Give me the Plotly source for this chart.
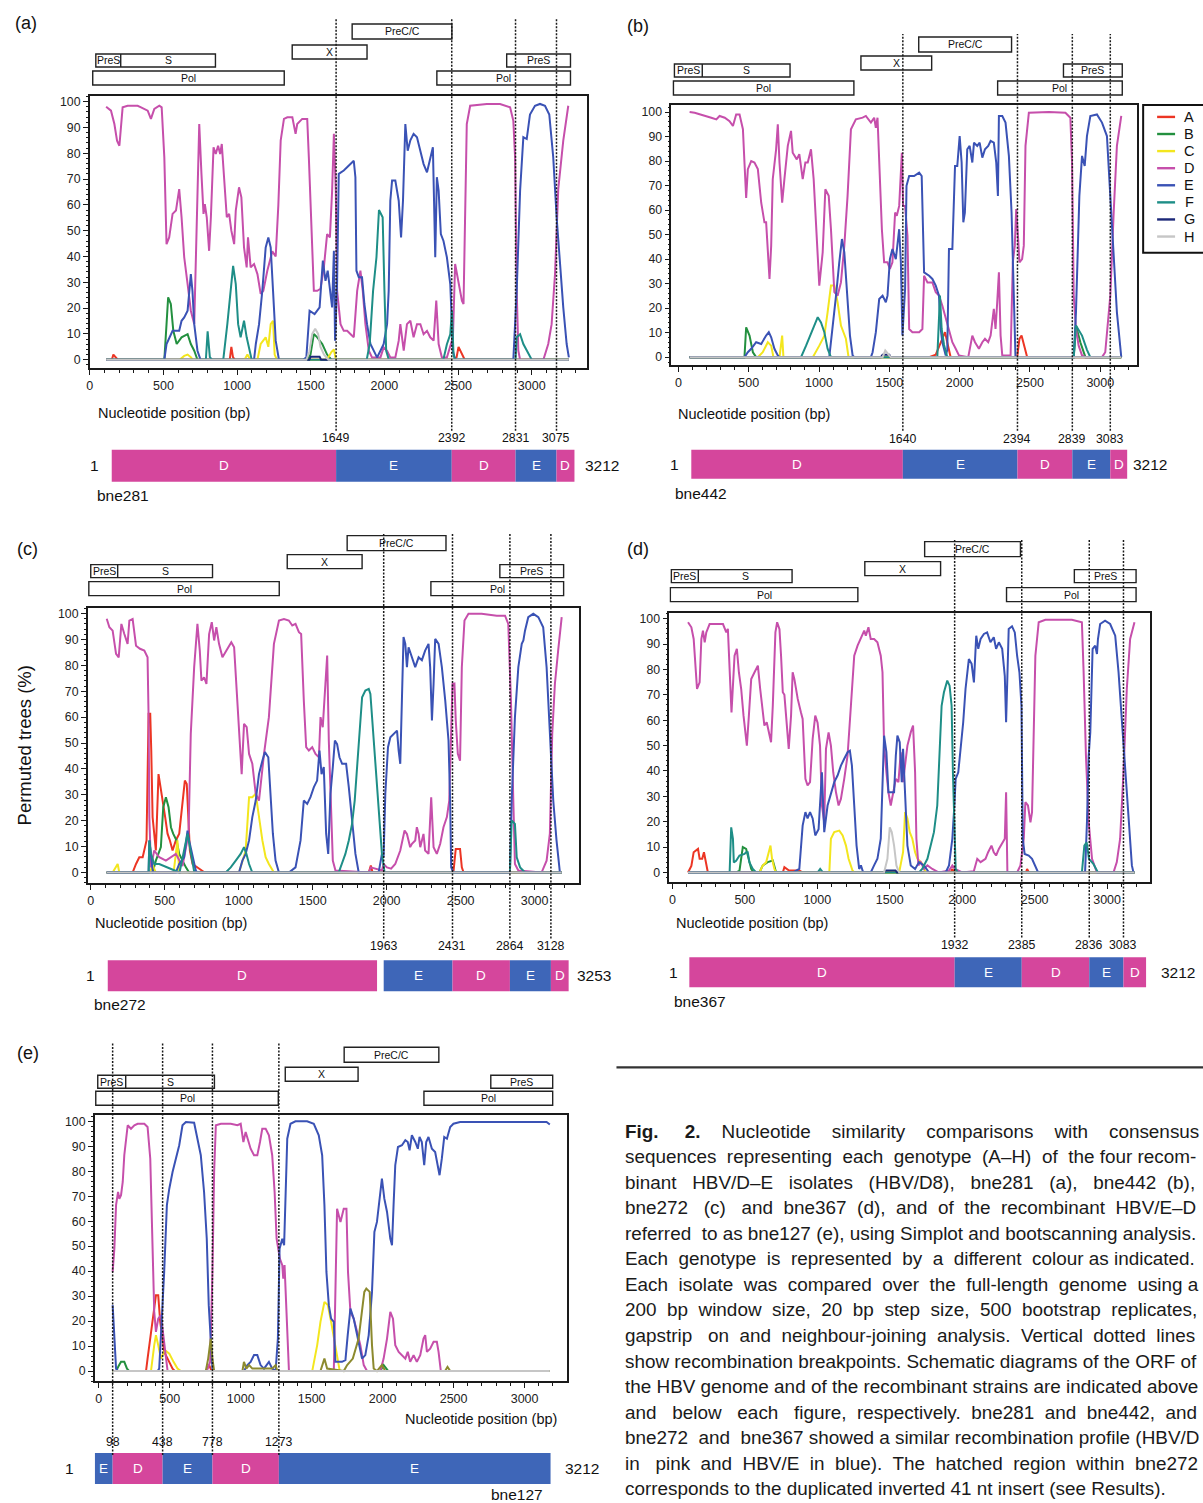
import plotly.graph_objects as go

W, H = 1203, 1503
FONT = "Arial, 'Liberation Sans', Helvetica, sans-serif"

GENOTYPES = ["A", "B", "C", "D", "E", "F", "G", "H"]
COLORS = {"A": "#ec3524", "B": "#23903f", "C": "#f3e61e", "D": "#c64fab",
          "E": "#3a52b5", "F": "#1e8e87", "G": "#1c2878", "H": "#c6c6c6"}
OLIVE = "#8c8a2e"
BAR_COL = {"D": "#d5469c", "E": "#3e66b8"}
TICKS_X = [0, 500, 1000, 1500, 2000, 2500, 3000]
TICKS_Y = [0, 10, 20, 30, 40, 50, 60, 70, 80, 90, 100]

# ---------------- panel (a) bne281 ----------------
PA_A = [(111,0),(150,0),(160,2),(175,1),(190,0),(950,0),(961,5),(972,1),(985,0),(2470,0),(2490,1),(2503,5),(2526,2),(2545,0),(3252,0)]
PA_B = [(111,0),(506,0),(521,13.8),(532,24.2),(550,21.6),(567,11.2),(590,6.1),(623,8.7),(664,9.9),(686,6.1),(709,3.5),(731,0),(1478,0),(1498,2),(1521,10),(1544,8.7),(1578,6.1),(1611,2),(1640,0),(3252,0)]
PA_C = [(111,0),(610,0),(641,1.5),(664,2),(686,1),(700,0),(1050,0),(1070,2),(1090,0),(1138,0),(1160,6.1),(1194,8.7),(1212,5),(1228,13.8),(1244,15.1),(1255,2),(1270,0),(1600,0),(1620,1),(1640,3),(1657,4),(1670,0),(3252,0)]
PA_D = [(111,98),(144,96.5),(167,91.3),(185,84.9),(201,82.9),(208,88.8),(223,97.8),(257,98.4),(325,98.4),(348,97.8),(393,96.5),(415,93.3),(438,97.2),(472,98.4),(488,97.8),(506,78.4),(521,44.8),(539,47.4),(562,56.5),(585,57.8),(607,66.1),(623,55.2),(641,39.7),(664,29.3),(686,19),(709,13.8),(720,40),(743,91.3),(758,72),(772,56.5),(781,60.3),(794,55.2),(810,42.2),(822,55.2),(840,82.3),(855,79.7),(871,82.9),(885,79.7),(896,83.6),(912,72),(930,55.2),(946,56.5),(961,50),(980,44.8),(991,57.8),(1013,66.8),(1029,62.9),(1047,43.5),(1065,35.8),(1074,47.4),(1092,35.8),(1115,37.1),(1138,33.2),(1160,25.5),(1178,26.7),(1205,34.5),(1239,42),(1262,40),(1280,60),(1296,85),(1318,93.3),(1341,93.9),(1375,93.9),(1397,87.5),(1408,91.3),(1442,93.3),(1476,93.3),(1487,78.4),(1503,52.6),(1521,26.7),(1544,26.7),(1566,27.5),(1589,35.8),(1611,48.7),(1630,47.4),(1645,65.5),(1657,87.5),(1670,65.5),(1679,26.7),(1702,13.8),(1724,11.2),(1747,11.2),(1769,10),(1792,8.7),(1815,26.7),(1837,34.5),(1853,26.7),(1871,13.8),(1894,3.5),(1916,0.9),(1973,0.9),(1995,4.8),(2018,3.5),(2040,0.9),(2074,0.9),(2097,7.4),(2108,13.8),(2131,3.5),(2153,13.8),(2176,15.1),(2198,8.7),(2221,13.8),(2244,13.8),(2266,9.9),(2289,11.2),(2311,8.7),(2334,7.4),(2352,22.9),(2368,6.1),(2390,0.9),(2424,0.9),(2447,4.8),(2465,8.7),(2480,37.1),(2503,29.3),(2526,22.9),(2537,21.6),(2548,59),(2559,91.3),(2582,98.4),(2695,99.1),(2785,99.1),(2853,97.8),(2875,92.6),(2887,78.4),(2898,26.7),(2909,3.5),(2921,0),(3079,0),(3112,6.1),(3135,13.8),(3158,33.2),(3180,66.1),(3214,84.9),(3248,98.4)]
PA_E = [(111,0),(506,0),(521,6.1),(562,11.2),(607,11.2),(623,15.1),(641,16.4),(664,19),(686,33.2),(697,26.7),(709,13.8),(731,3.5),(752,0),(1115,0),(1127,6.1),(1149,13.8),(1171,26.7),(1194,43.5),(1212,47.4),(1228,43.5),(1244,26.7),(1262,7.4),(1284,0),(1448,0),(1470,0.9),(1492,19),(1526,17.7),(1560,20.3),(1582,38.4),(1600,30.6),(1615,34.5),(1645,20.3),(1657,42.2),(1665,7.4),(1679,30),(1690,72),(1724,73.3),(1769,75.8),(1792,77.1),(1803,70.7),(1810,34.5),(1826,32),(1848,32),(1864,21.6),(1882,13.8),(1905,6.1),(1927,3.5),(1950,0.9),(1973,3.5),(1995,6.1),(2018,13.8),(2029,26.7),(2040,61.6),(2052,69.4),(2074,69.4),(2097,61.6),(2113,47.4),(2126,61.6),(2142,91.3),(2158,81),(2176,85),(2198,87.5),(2221,86.2),(2244,81),(2266,75.8),(2289,72.6),(2307,77.1),(2329,82.3),(2345,39.7),(2356,70.7),(2368,65.5),(2383,48.7),(2401,46),(2424,39.7),(2447,29.3),(2465,3.5),(2480,0),(2875,0),(2898,26.7),(2921,65.5),(2943,86.2),(2966,85.5),(2988,95),(3022,98.4),(3056,99.1),(3090,98.4),(3119,95),(3146,78.4),(3169,55.2),(3191,36),(3214,20.3),(3237,6.1),(3252,0.9)]
PA_F = [(111,0),(788,0),(800,11),(815,1),(830,0),(906,0),(934,14),(957,27),(973,36.4),(991,29.3),(1007,13.8),(1024,8.7),(1047,15.1),(1065,8.7),(1083,3.5),(1099,0),(1880,0),(1900,6.1),(1923,26.7),(1946,39.7),(1963,58),(1988,55.2),(2000,27),(2012,3.5),(2030,0),(2400,0),(2424,6),(2447,9.9),(2458,19),(2469,2),(2480,0),(2890,0),(2898,8.7),(2921,9.9),(2943,6.1),(2988,1),(3000,0),(3252,0)]
PA_G = [(111,0),(1490,0),(1500,1.2),(1560,1.2),(1570,0),(3252,0)]
PA_H = [(111,0),(1470,0),(1490,3),(1510,10),(1530,12),(1550,10),(1566,5),(1590,2),(1620,0),(3252,0)]
PA_BREAK_LABELS = [1649, 2392, 2831, 3075]
PA_BREAK_POS = [1672, 2457, 2890, 3168]
PA_BAR = [149, 3290]
PA_BAR_LETTERS = ["D", "E", "D", "E", "D"]
PA_LENGTH = 3212
PA_ORF = [("PreC/C",1781,2458,0),("X",1374,1882,1),("S",41,853,2),("Pol",20,1320,3),("PreS",2830,3263,2),("Pol",2356,3263,3)]
PA_PRES_END = 210

# ---------------- panel (b) bne442 ----------------
PB_A = [(80,0),(1783,0),(1830,1),(1877,7.5),(1896,10.2),(1912,6),(1936,0),(2409,0),(2425,7.5),(2440,8.8),(2456,5),(2480,0),(3149,0)]
PB_B = [(80,0),(470,0),(482,12.2),(506,8.8),(530,2),(553,0),(2811,0),(2827,12.9),(2858,6.1),(2894,0),(3149,0)]
PB_C = [(80,0),(565,0),(600,2),(636,6.1),(660,4.7),(676,0),(719,0),(738,8.8),(747,0),(956,0),(1002,4.7),(1038,8.8),(1061,18.3),(1085,29.2),(1109,29.2),(1132,22.4),(1156,12.9),(1191,7.5),(1210,0),(3149,0)]
PB_D = [(80,100),(116,99.7),(151,99.1),(199,98.4),(234,97.7),(270,97),(293,98.4),(330,97.7),(364,96.3),(388,94.3),(411,99),(435,99),(459,93),(470,79.4),(482,65),(494,76.7),(518,80),(541,79.4),(565,76.7),(589,63),(612,55),(624,55),(636,45.5),(648,31.9),(660,45.5),(671,72.6),(695,84.8),(707,95),(719,79.4),(738,63),(754,72.6),(778,86.2),(801,92.3),(813,83.4),(842,80.7),(860,82.8),(884,72.6),(903,79.4),(920,79.4),(943,84.8),(962,72.6),(983,52.2),(1002,29.2),(1026,42.7),(1045,68.5),(1069,65.8),(1085,52.2),(1109,26.5),(1132,25.1),(1156,30.5),(1180,45.5),(1203,65.8),(1227,93),(1262,97),(1310,97.7),(1333,98.4),(1369,95.7),(1392,97.7),(1404,93.6),(1416,97.7),(1428,79.4),(1447,52.2),(1463,38.7),(1487,38.7),(1504,36),(1522,38.7),(1541,59),(1553,57.7),(1570,61.7),(1589,83.4),(1598,61.7),(1612,61.7),(1629,49.5),(1641,11.5),(1664,10.2),(1712,10.2),(1735,11.5),(1747,33.2),(1771,30.5),(1806,30.5),(1830,26.5),(1853,25.1),(1877,21),(1901,15.6),(1924,11.5),(1948,6.1),(1972,3.4),(1995,0.7),(2061,0),(2071,3.4),(2090,8.8),(2109,6.1),(2137,3.4),(2161,6.1),(2180,7.5),(2203,6.1),(2220,8.8),(2243,19.7),(2255,11.5),(2267,22.4),(2279,34.6),(2291,8.8),(2303,0.7),(2362,0.7),(2378,38.7),(2392,45.5),(2402,60.4),(2416,48.2),(2425,38.7),(2444,40),(2456,45.5),(2468,86.2),(2492,99.7),(2634,100),(2752,99.7),(2787,97.7),(2799,79.4),(2811,25.1),(2827,11.5),(2846,4.7),(2870,0.7),(2894,0),(3012,0),(3035,2),(3071,25.1),(3095,59),(3118,86.2),(3149,98.4)]
PB_E = [(80,0),(470,0),(494,2),(518,3.4),(553,6.1),(589,5.4),(624,8.8),(643,10.2),(660,8.1),(683,3.4),(707,0.7),(720,0),(1073,0),(1097,11.5),(1121,25.1),(1144,38.7),(1163,48.2),(1180,42.7),(1203,25.1),(1220,8.8),(1239,0.7),(1251,0),(1369,0),(1381,2),(1404,10.2),(1428,23.7),(1452,25.1),(1475,22.4),(1487,25.1),(1504,40),(1522,44.1),(1546,40),(1570,52.2),(1582,38.7),(1593,8.8),(1612,27.8),(1622,69.9),(1641,73.9),(1676,73.9),(1712,75.3),(1730,73.9),(1747,34.6),(1783,33.2),(1806,31.9),(1830,29.2),(1853,25.1),(1865,11.5),(1877,6.1),(1901,0.7),(1912,3),(1924,44.1),(1948,44.1),(1967,78),(1983,78),(2000,90.2),(2014,79.4),(2026,55),(2037,59),(2054,84.8),(2071,86.2),(2090,79.4),(2102,87.5),(2125,86.2),(2142,87.5),(2161,81.4),(2180,84.8),(2203,86.2),(2220,88.2),(2243,87.5),(2260,79.4),(2272,65.8),(2279,98.4),(2303,98.4),(2326,95.7),(2350,82.1),(2369,59),(2385,25.1),(2397,0),(2811,0),(2827,18.3),(2851,65.8),(2870,82.1),(2889,78),(2905,90.2),(2929,98.4),(2976,99),(3012,95.7),(3047,90.2),(3071,65.8),(3095,38.7),(3118,18.3),(3149,0)]
PB_F = [(80,0),(872,0),(908,4.7),(956,11.5),(991,16.3),(1014,14.2),(1038,10.2),(1061,3.4),(1085,0),(1841,0),(1860,25.1),(1872,11.5),(1889,5),(1912,0),(2811,0),(2827,12.9),(2870,8.8),(2905,3),(2929,0),(3149,0)]
PB_G = [(80,0),(1440,0),(1452,1),(1500,1),(1510,0),(3149,0)]
PB_H = [(80,0),(1452,0),(1471,2.7),(1487,1.4),(1510,0),(3149,0)]
PB_BREAK_LABELS = [1640, 2394, 2839, 3083]
PB_BREAK_POS = [1596, 2411, 2801, 3071]
PB_BAR = [92, 3191]
PB_BAR_LETTERS = ["D", "E", "D", "E", "D"]
PB_LENGTH = 3212
PB_ORF = [("PreC/C",1709,2369,0),("X",1298,1801,1),("S",-28,794,2),("Pol",-35,1248,3),("PreS",2738,3156,2),("Pol",2270,3156,3)]
PB_PRES_END = 170

# ---------------- panel (c) bne272 ----------------
PC_A = [(108,0),(283,0),(306,3.3),(328,5.9),(351,5.9),(377,12.4),(391,61.3),(402,61.3),(409,47.1),(418,21.4),(429,15),(440,8.5),(458,38),(470,33),(485,27.8),(503,21.4),(519,15),(535,12.4),(553,8.5),(575,12.4),(598,15),(620,27.8),(636,35.5),(649,34.2),(661,21.4),(670,8.5),(688,3.3),(721,2),(755,0.8),(770,0),(1879,0),(1893,2.7),(1905,0),(2451,0),(2467,9.1),(2496,9.1),(2508,2),(2520,0),(3183,0)]
PC_B = [(108,0),(418,0),(440,4.6),(474,9.8),(490,25.2),(508,29.1),(526,25.2),(542,17.5),(557,15),(580,12.4),(598,7.2),(620,4.6),(643,2),(665,0),(3183,0)]
PC_C = [(108,0),(148,0),(182,3.3),(193,0),(400,0),(418,3),(440,0),(560,0),(586,12.4),(598,0),(1002,0),(1047,8.5),(1070,29.1),(1092,29.1),(1115,30.4),(1137,21.4),(1160,12.4),(1182,5.9),(1204,3.3),(1238,0),(3183,0)]
PC_D = [(108,98),(126,94.7),(148,93.4),(171,84.4),(189,83.1),(207,96),(227,92.1),(249,88.3),(261,97.3),(283,97.9),(306,87.6),(333,86.4),(362,85.7),(384,83.1),(391,60),(396,21.4),(407,2),(429,8.5),(463,5.9),(508,4.6),(575,7.2),(620,2.5),(661,15),(676,53.5),(699,79.3),(721,96),(737,85.7),(748,74.1),(766,75.4),(782,72.8),(800,92.1),(818,96.7),(834,89.6),(849,94.7),(867,88.3),(890,83.1),(917,85.7),(950,88.9),(969,87),(984,72.8),(1002,53.5),(1020,38),(1036,57.4),(1054,56.1),(1070,45.8),(1092,42),(1115,30.4),(1137,27.8),(1171,45.8),(1204,60),(1238,88.3),(1272,97.3),(1306,97.9),(1339,97.3),(1362,95.4),(1384,96),(1407,92.8),(1422,92.1),(1440,66.4),(1456,48.4),(1474,47.1),(1497,48.4),(1519,45.8),(1542,44.5),(1553,60),(1568,56.1),(1586,72.8),(1598,83.8),(1609,51),(1620,27.8),(1636,4.6),(1654,0.8),(1879,0),(1893,2),(1968,0.8),(1979,3.3),(2002,2),(2030,1.5),(2058,3.3),(2092,8.5),(2121,16.2),(2137,14.9),(2159,9.8),(2171,11.1),(2193,12.4),(2204,17.5),(2216,14.9),(2227,9.8),(2238,12.4),(2249,14.9),(2260,8.5),(2283,7.2),(2301,29.1),(2317,9.8),(2339,7.2),(2362,11.1),(2384,17.5),(2407,21.4),(2423,27.8),(2436,58.7),(2445,72.8),(2458,73),(2467,58.7),(2481,45.8),(2496,43.2),(2508,79.3),(2526,97.3),(2553,99.9),(2642,99.9),(2744,99.2),(2800,99.2),(2822,96),(2840,66.4),(2856,27.8),(2867,3.3),(2890,0.8),(3047,0),(3081,4.6),(3103,15),(3119,53.5),(3137,72.8),(3159,85.7),(3183,98.6)]
PC_E = [(108,0),(391,0),(396,12.4),(411,4),(420,0),(575,0),(598,3.3),(631,5.9),(654,16.2),(665,12.4),(688,5.9),(710,0.8),(720,0),(1002,0),(1025,4.6),(1047,7.2),(1070,12.4),(1092,21.4),(1115,27.8),(1137,38),(1160,43.2),(1177,46.5),(1200,44.5),(1216,30.4),(1231,15),(1249,4.6),(1272,0),(1339,0),(1384,2),(1418,12.4),(1440,27.8),(1463,26.5),(1485,29.1),(1508,33),(1530,35.5),(1546,47.1),(1560,38),(1575,40.7),(1591,15),(1605,7.2),(1620,30.4),(1636,40.7),(1650,51),(1665,49.6),(1681,44.5),(1699,42),(1726,42),(1744,33),(1766,21.4),(1789,7.2),(1811,0),(1946,0),(1968,7.2),(1979,5.9),(1991,30.4),(2009,48.4),(2025,52.2),(2047,53.5),(2070,54.8),(2081,47.1),(2092,42),(2103,66.4),(2114,90.9),(2126,88.3),(2137,79.3),(2148,87),(2171,83.1),(2193,79.3),(2216,83.1),(2238,82),(2260,85.7),(2283,88.3),(2294,79.3),(2306,58.7),(2317,72.8),(2328,90.2),(2351,88.3),(2373,79.3),(2396,66.4),(2418,51),(2429,27.8),(2436,2),(2451,0),(2833,0),(2845,27.8),(2867,60),(2890,79.3),(2913,88.3),(2924,89.6),(2935,93.4),(2957,98.6),(2991,99.9),(3025,98.6),(3058,94.7),(3081,79.3),(3103,53.5),(3126,27.8),(3148,12.4),(3171,0)]
PC_F = [(108,0),(391,0),(396,12.4),(407,7.2),(429,3.3),(463,3.3),(600,0),(654,15),(670,9.8),(688,3.3),(700,0),(912,0),(946,2),(980,4.6),(1013,7.2),(1036,9.8),(1052,7.2),(1070,3.3),(1092,0),(1676,0),(1699,3.3),(1721,7.2),(1744,12.4),(1766,18.8),(1784,27.8),(1800,40.7),(1816,56.1),(1834,67.7),(1856,70.3),(1879,70.9),(1890,69),(1901,60),(1919,47.1),(1935,34.2),(1950,21.4),(1968,7.2),(1986,0),(2833,0),(2845,20.1),(2867,18.8),(2879,5.9),(2902,2),(2935,0),(3183,0)]
PC_G = [(108,0),(3183,0)]
PC_H = [(108,0),(3183,0)]
PC_BREAK_LABELS = [1963, 2431, 2864, 3128]
PC_BREAK_POS = [1980, 2445, 2833, 3110]
PC_BAR = [115, 3230]
PC_BAR_LETTERS = ["D", "E", "D", "E", "D"]
PC_INSERT = [1935, 1980]
PC_LENGTH = 3253
PC_ORF = [("PreC/C",1733,2401,0),("X",1328,1834,1),("S",0,823,2),("Pol",-13,1274,3),("PreS",2765,3196,2),("Pol",2299,3196,3)]
PC_PRES_END = 182

# ---------------- panel (d) bne367 ----------------
PD_A = [(108,0),(131,2.6),(147,8),(177,9.3),(188,5.4),(206,5.4),(218,8),(230,4),(245,0),(762,0),(773,2.1),(805,0.8),(876,0.8),(900,0),(1920,0),(1932,1.4),(1945,0),(2440,0),(2448,1.4),(2460,0),(3189,0)]
PD_B = [(108,0),(440,0),(463,0.7),(486,10),(509,9.3),(532,4),(544,1.4),(560,0),(601,0),(624,2.8),(658,4.1),(693,4.7),(716,0),(3189,0)]
PD_C = [(108,0),(601,0),(624,2.8),(647,4),(665,8),(677,10.6),(688,5.4),(704,1.4),(716,0),(1083,0),(1094,13.3),(1117,15.9),(1152,16.5),(1175,14.6),(1198,10.6),(1216,5.4),(1243,0.8),(1255,0),(1565,0),(1592,8),(1606,23.8),(1622,21.3),(1638,15.9),(1656,13.3),(1675,8),(1691,5.4),(1725,3.4),(1748,0),(3189,0)]
PD_D = [(108,98.6),(131,96.6),(147,92),(161,78.9),(170,72.3),(188,74.9),(200,92),(211,95.3),(223,90.7),(234,94.6),(257,97.9),(349,97.9),(372,94.6),(383,96),(399,72.3),(408,63.1),(429,85.4),(445,88.1),(459,78.9),(475,72.3),(491,61.8),(504,55.2),(514,50),(528,61.8),(544,76.2),(567,78.9),(590,81.5),(606,72.3),(619,65.7),(635,57.9),(651,59.2),(665,55.2),(681,51.3),(693,65.7),(711,94.6),(723,98.6),(739,95.9),(750,85.4),(762,71),(773,70),(789,59.2),(803,48.7),(819,61.8),(830,78.9),(842,76.2),(865,68.4),(887,63.1),(899,60.5),(918,36.9),(933,34.3),(950,35.6),(968,52.6),(986,61.8),(1002,59),(1019,50),(1032,26.4),(1048,19.8),(1060,48.7),(1078,55.2),(1094,50),(1110,39.5),(1129,31.6),(1147,26.4),(1163,29),(1186,36.9),(1209,46.1),(1232,65.7),(1255,85.4),(1278,89.4),(1308,93.3),(1324,95.3),(1335,93.3),(1353,96.6),(1369,92),(1392,92),(1415,90.7),(1438,85.4),(1450,78.9),(1461,50),(1477,39.5),(1491,31.6),(1507,26.4),(1519,30.3),(1542,36.9),(1560,35.6),(1576,47.4),(1592,35.6),(1606,42.1),(1622,50),(1645,55.2),(1661,57.9),(1675,39.5),(1684,13.3),(1698,2.8),(1714,4.1),(1737,1.4),(1760,2.8),(1794,1.4),(1840,0),(1909,0.8),(1932,2.8),(1950,1.4),(2000,0),(2080,0.5),(2104,5.4),(2127,4.1),(2161,5.4),(2179,8),(2202,10.6),(2218,8),(2234,6.7),(2253,9.3),(2276,11.9),(2294,13.3),(2303,31.6),(2312,0),(2379,0),(2402,2.8),(2425,13.3),(2436,27.7),(2454,26.4),(2471,19.8),(2482,23.8),(2494,52.6),(2505,85.4),(2528,98.6),(2574,99.6),(2757,99.6),(2826,98.6),(2838,78.9),(2854,46.1),(2873,19.8),(2896,5.4),(2930,0),(3044,0),(3067,4.1),(3090,13.3),(3113,39.5),(3136,72.3),(3159,92),(3189,98.6)]
PD_E = [(108,0),(830,0),(876,1.4),(899,18.5),(918,23.8),(933,21.3),(950,23.8),(968,21.3),(986,14.6),(1009,17.1),(1032,39.5),(1048,15.9),(1071,26.4),(1094,31.6),(1117,35.6),(1140,38.2),(1163,42.1),(1186,44.8),(1209,47.4),(1225,48),(1239,42.1),(1255,26.4),(1271,10.6),(1289,1.4),(1301,2.8),(1317,0),(1369,0),(1392,2.8),(1415,5.4),(1438,13.3),(1450,31.6),(1461,53.9),(1477,47.4),(1491,31.6),(1507,31.6),(1530,31.6),(1542,46.1),(1553,53.9),(1569,51.3),(1583,35.6),(1592,48.7),(1606,29),(1622,10.6),(1645,2.8),(1675,1.4),(1702,4.1),(1737,2.8),(1771,0),(1886,0),(1909,2.8),(1932,13.3),(1946,26.4),(1955,36.9),(1973,39.5),(1989,48.7),(2007,59.2),(2023,72.3),(2035,77.4),(2046,84.1),(2065,82.2),(2081,74.9),(2097,93.3),(2111,88.1),(2127,92),(2150,94),(2172,94.6),(2195,90.7),(2218,92.7),(2234,88.1),(2253,90.7),(2276,88.1),(2294,77.4),(2303,59.2),(2312,77.4),(2321,95.9),(2344,97),(2363,94.6),(2379,85.4),(2395,78.9),(2409,65.7),(2418,13.3),(2431,7.3),(2459,6.7),(2482,5.4),(2505,2.8),(2524,0),(2848,0),(2861,19.8),(2873,46.1),(2884,55.2),(2900,88.1),(2918,89.4),(2930,86.1),(2937,92),(2952,97.9),(2986,99.2),(3021,97.9),(3056,93.3),(3079,78.9),(3102,59.2),(3125,39.5),(3148,19.8),(3171,2.8),(3182,0)]
PD_F = [(108,0),(395,0),(406,17.8),(418,13.3),(424,4),(440,4.6),(463,6.7),(498,7.3),(509,8),(520,8),(532,4),(555,1.4),(578,0),(1002,0),(1020,1.4),(1040,0),(1702,0),(1724,1.4),(1760,5.4),(1782,10.6),(1805,15.9),(1828,26.4),(1844,46.1),(1858,65.7),(1874,71),(1897,75.6),(1913,73.6),(1927,65.7),(1936,39.5),(1946,13.3),(1955,1.4),(1970,0),(2826,0),(2843,10.6),(2859,11.9),(2875,5.4),(2905,3.4),(2937,0),(3189,0)]
PD_G = [(108,0),(1461,0),(1470,0.8),(1540,0.8),(1550,0),(3189,0)]
PD_H = [(108,0),(1461,0),(1484,5.4),(1500,17.8),(1514,15.9),(1530,10.6),(1546,2.8),(1565,0),(3189,0)]
PD_BREAK_LABELS = [1932, 2385, 2836, 3083]
PD_BREAK_POS = [1948, 2411, 2877, 3113]
PD_BAR = [117, 3269]
PD_BAR_LETTERS = ["D", "E", "D", "E", "D"]
PD_LENGTH = 3212
PD_ORF = [("PreC/C",1741,2402,0),("X",1328,1851,1),("S",-7,826,2),("Pol",-14,1280,3),("PreS",2774,3200,2),("Pol",2306,3200,3)]
PD_PRES_END = 179

# ---------------- panel (e) bne127 ----------------
PE_A = [(98,0),(333,0),(344,5),(363,13),(379,21),(403,30.4),(419,30.4),(433,19.7),(450,13),(461,7.7),(485,5),(520,1),(537,0),(754,0),(778,2.4),(795,0),(3178,0)]
PE_B = [(98,0),(122,0),(140,2),(157,3.7),(180,3.7),(199,1),(215,0),(1984,0),(2007,2.4),(2040,0),(3178,0)]
PE_C = [(98,0),(368,0),(391,10.4),(403,14.4),(419,10.4),(438,5),(466,8.4),(497,7),(527,3.7),(555,1),(578,0),(1504,0),(1539,10.4),(1562,19.7),(1590,27.7),(1614,26.4),(1637,19.7),(1661,11.7),(1679,5),(1698,0),(3178,0)]
PE_D = [(98,39.7),(110,49),(122,66.4),(136,71.7),(145,69),(157,70.4),(169,75.7),(180,86.4),(204,98.4),(227,97),(251,98.4),(274,99),(321,99),(344,97.7),(363,85),(379,53),(391,23.7),(403,15.7),(419,21),(438,22.4),(457,13),(473,5),(485,0),(761,0),(785,3.7),(801,39.7),(813,79.7),(825,98.4),(861,99),(930,99),(977,98.4),(1000,99),(1019,91.7),(1035,95.7),(1047,93),(1070,89),(1094,86.4),(1117,86.4),(1136,91.7),(1152,97),(1176,97),(1199,94.4),(1222,86.4),(1239,71.7),(1253,53),(1262,49),(1276,45),(1293,42.4),(1300,37),(1309,42.4),(1323,19.7),(1340,0),(1656,0),(1667,39.7),(1679,65),(1703,59.7),(1726,65),(1745,65),(1756,39.7),(1773,23.7),(1796,21),(1820,15.7),(1843,10.4),(1867,2.4),(1890,0),(1984,0),(2007,5),(2031,13),(2054,23.7),(2073,21),(2089,10.4),(2113,7.7),(2136,6.4),(2160,5),(2177,7.7),(2194,3.7),(2218,6.4),(2241,3.7),(2265,6.4),(2288,13),(2300,14.4),(2312,7.7),(2335,9),(2359,11.7),(2382,11.7),(2394,7.7),(2410,0),(3178,0)]
PE_E = [(98,26.4),(110,13),(122,1),(136,0),(415,0),(426,1),(438,13),(450,26.4),(461,39.7),(480,66.4),(497,73),(520,79.7),(543,85),(567,90.4),(590,98.4),(614,99.7),(672,99.4),(696,93),(719,86.4),(742,71.7),(761,53),(775,26.4),(789,13),(801,1),(815,0),(1023,0),(1047,2.4),(1070,3.7),(1094,6.4),(1117,6.4),(1140,2.4),(1164,1),(1199,3.7),(1222,1),(1246,0),(1262,13),(1274,49),(1293,53),(1306,50.4),(1328,93),(1351,99),(1386,100),(1468,100),(1515,99),(1550,94.4),(1574,86.4),(1590,66.4),(1604,39.7),(1621,26.4),(1637,21),(1656,19.7),(1667,3.7),(1714,3.7),(1738,4.4),(1754,14.4),(1773,25),(1796,21),(1815,15.7),(1831,10.4),(1855,5),(1878,6.4),(1902,14.4),(1925,31.7),(1942,55.7),(1960,59.7),(1979,69),(1995,77),(2012,69),(2031,63.7),(2054,53),(2066,50.4),(2077,66.4),(2089,82.4),(2108,89.7),(2136,90.4),(2160,92.4),(2177,91.7),(2190,88.4),(2206,94.4),(2230,91.7),(2248,89),(2260,93.7),(2276,91.7),(2293,82.4),(2307,91.7),(2323,93.7),(2347,89),(2370,87.7),(2387,83),(2401,78.4),(2417,85),(2434,93.7),(2453,93),(2476,97.7),(2499,99),(2546,99.7),(2733,99.7),(2967,99.7),(3155,99.7),(3178,98.7)]
PE_F = [(98,0),(3178,0)]
PE_G = [(98,0),(754,0),(771,5),(789,13),(801,5),(813,0),(1012,0),(1023,3.7),(1040,1),(1059,2.4),(1082,1),(1222,1),(1246,2.4),(1258,0),(1562,0),(1590,5),(1609,1),(1726,0),(1750,2.4),(1790,5),(1831,13),(1850,21),(1871,31.7),(1885,33),(1909,31.7),(1925,10.4),(1937,1),(1960,0),(1995,2.4),(2019,0),(2440,0),(2457,1.7),(2476,0),(3178,0)]
PE_H = [(98,0),(3178,0)]
PE_BREAK_LABELS = [98, 438, 778, 1273]
PE_BREAK_POS = [98, 450, 801, 1269]
PE_BAR = [-28, 3183]
PE_BAR_LETTERS = ["E", "D", "E", "D", "E"]
PE_LENGTH = 3212
PE_ORF = [("PreC/C",1729,2396,0),("X",1314,1827,1),("S",-7,815,2),("Pol",-21,1265,3),("PreS",2762,3198,2),("Pol",2291,3198,3)]
PE_PRES_END = 190

CAPTION = [
    "Fig. 2. Nucleotide similarity comparisons with consensus",
    "sequences representing each genotype (A–H) of the four recom-",
    "binant HBV/D–E isolates (HBV/D8), bne281 (a), bne442 (b),",
    "bne272 (c) and bne367 (d), and of the recombinant HBV/E–D",
    "referred to as bne127 (e), using Simplot and bootscanning analysis.",
    "Each genotype is represented by a different colour as indicated.",
    "Each isolate was compared over the full-length genome using a",
    "200 bp window size, 20 bp step size, 500 bootstrap replicates,",
    "gapstrip on and neighbour-joining analysis. Vertical dotted lines",
    "show recombination breakpoints. Schematic diagrams of the ORF of",
    "the HBV genome and of the recombinant strains are indicated above",
    "and below each figure, respectively. bne281 and bne442, and",
    "bne272 and bne367 showed a similar recombination profile (HBV/D",
    "in pink and HBV/E in blue). The hatched region within bne272",
    "corresponds to the duplicated inverted 41 nt insert (see Results).",
]
CAPTION_BOLD_WORDS = 2   # "Fig." and "2."

# ---------------- layout geometry (pixels) ----------------
PANELS = [
    dict(tag="(a)", tagxy=(10, 22), name="bne281",
         data=dict(A=PA_A, B=PA_B, C=PA_C, D=PA_D, E=PA_E, F=PA_F, G=PA_G, H=PA_H),
         box=(87, 95, 585, 367), xr=[0, 3372], yr=[-3.1, 102.2],
         blab=PA_BREAK_LABELS, bpos=PA_BREAK_POS, bar=PA_BAR, letters=PA_BAR_LETTERS,
         length=PA_LENGTH, orf=PA_ORF, pres=PA_PRES_END, rows=[23, 44, 53, 70],
         vline=(18, 430), blab_y=437, bar_y=(449, 481), one_x=92, len_x=600,
         name_xy=(120, 495), nuc_xy=(93, 412, "left"), insert=None),
    dict(tag="(b)", tagxy=(624, 25), name="bne442",
         data=dict(A=PB_A, B=PB_B, C=PB_C, D=PB_D, E=PB_E, F=PB_F, G=PB_G, H=PB_H),
         box=(670, 104, 1137, 364), xr=[-50, 3262], yr=[-3.1, 102.9],
         blab=PB_BREAK_LABELS, bpos=PB_BREAK_POS, bar=PB_BAR, letters=PB_BAR_LETTERS,
         length=PB_LENGTH, orf=PB_ORF, pres=PB_PRES_END, rows=[36, 55, 63, 80],
         vline=(33, 430), blab_y=438, bar_y=(449, 478), one_x=673, len_x=1150,
         name_xy=(700, 493), nuc_xy=(675, 413, "left"), insert=None),
    dict(tag="(c)", tagxy=(12, 548), name="bne272",
         data=dict(A=PC_A, B=PC_B, C=PC_C, D=PC_D, E=PC_E, F=PC_F, G=PC_G, H=PC_H),
         box=(85, 607, 577, 883), xr=[-20, 3297], yr=[-4.2, 102.3],
         blab=PC_BREAK_LABELS, bpos=PC_BREAK_POS, bar=PC_BAR, letters=PC_BAR_LETTERS,
         length=PC_LENGTH, orf=PC_ORF, pres=PC_PRES_END, rows=[535, 554, 564, 581],
         vline=(533, 938), blab_y=946, bar_y=(960, 991), one_x=88, len_x=592,
         name_xy=(117, 1004), nuc_xy=(90, 923, "left"), insert=PC_INSERT),
    dict(tag="(d)", tagxy=(624, 548), name="bne367",
         data=dict(A=PD_A, B=PD_B, C=PD_C, D=PD_D, E=PD_E, F=PD_F, G=PD_G, H=PD_H),
         box=(668, 612, 1150, 882), xr=[-21, 3297], yr=[-3.9, 102.4],
         blab=PD_BREAK_LABELS, bpos=PD_BREAK_POS, bar=PD_BAR, letters=PD_BAR_LETTERS,
         length=PD_LENGTH, orf=PD_ORF, pres=PD_PRES_END, rows=[541, 561, 569, 587],
         vline=(539, 937), blab_y=945, bar_y=(957, 987), one_x=672, len_x=1178,
         name_xy=(699, 1001), nuc_xy=(673, 923, "left"), insert=None),
    dict(tag="(e)", tagxy=(12, 1053), name="bne127",
         data=dict(A=PE_A, B=PE_B, C=PE_C, D=PE_D, E=PE_E, F=PE_F, G=PE_G, H=PE_H),
         box=(92, 1115, 565, 1381), xr=[-28, 3296], yr=[-4, 102.4],
         blab=PE_BREAK_LABELS, bpos=PE_BREAK_POS, bar=PE_BAR, letters=PE_BAR_LETTERS,
         length=PE_LENGTH, orf=PE_ORF, pres=PE_PRES_END, rows=[1047, 1067, 1075, 1091],
         vline=(1043, 1455), blab_y=1442, bar_y=(1453, 1484), one_x=67, len_x=580,
         name_xy=(515, 1494), nuc_xy=(557, 1419, "right"), insert=None),
]
ROW_H = [15, 14, 13, 14]

# Helvetica/Arial advance widths (1/1000 em) used to justify the caption lines
_HW = dict(zip("abcdefghijklmnopqrstuvwxyz",
               [556,556,500,556,556,278,556,556,222,222,500,222,833,556,556,556,556,333,500,278,556,500,722,500,500,500]))
_HW.update(zip("ABCDEFGHIJKLMNOPQRSTUVWXYZ",
               [667,667,722,722,667,611,778,722,278,500,667,556,833,722,778,667,778,722,667,611,722,667,944,667,667,611]))
_HW.update({d: 556 for d in "0123456789"})
_HW.update({" ": 278, ".": 278, ",": 278, "(": 333, ")": 333, "-": 333, "–": 556, "/": 278})
CAP_SIZE = 18.9
CAP_X0, CAP_X1 = 622, 1197
CAP_Y0, CAP_DY = 1131, 25.55


def str_w(s, size):
    return sum(_HW.get(c, 556) for c in s) * size / 1000.0


def justify(line, nbold=0, last=False):
    words = line.split(" ")
    gaps = len(words) - 1
    if last:
        spaces = [1] * gaps
    else:
        natural = str_w(line, CAP_SIZE)
        extra = (CAP_X1 - CAP_X0) - natural
        sp = 278 * CAP_SIZE / 1000.0
        n_extra = max(0, int(extra / sp))
        spaces = [1 + n_extra // gaps + (1 if k < n_extra % gaps else 0) for k in range(gaps)]
    out = ""
    for k, w in enumerate(words):
        out += f"<b>{w}</b>" if k < nbold else w
        if k < gaps:
            out += " " * spaces[k]
    return out


def px(x):
    return x / W


def py(y):
    return 1 - y / H


fig = go.Figure()
shapes = []
annotations = []
layout_axes = {}


def text(x, y, s, size=12, xref="paper", color="#111", anchor="center", angle=0):
    annotations.append(dict(
        x=x if xref != "paper" else px(x), y=py(y), xref=xref, yref="paper",
        text=s, showarrow=False, xanchor=anchor, yanchor="middle", textangle=angle,
        font=dict(family=FONT, size=size, color=color)))


for i, p in enumerate(PANELS, start=1):
    xa, ya = f"x{i}", f"y{i}"
    xk = "xaxis" if i == 1 else f"xaxis{i}"
    yk = "yaxis" if i == 1 else f"yaxis{i}"
    l, t, r, b = p["box"]
    layout_axes[xk] = dict(
        domain=[px(l), px(r)], range=p["xr"], anchor=ya, showgrid=False, zeroline=False,
        showline=True, mirror=True, linecolor="#1a1a1a", linewidth=1.6,
        ticks="outside", tickvals=TICKS_X, ticklen=5, tickwidth=1.1, tickcolor="#1a1a1a",
        minor=dict(dtick=100, tick0=0, ticks="outside", ticklen=3, tickcolor="#1a1a1a"),
        tickfont=dict(family=FONT, size=12.5, color="#222"))
    layout_axes[yk] = dict(
        domain=[py(b), py(t)], range=p["yr"], anchor=xa, showgrid=False, zeroline=False,
        showline=True, mirror=True, linecolor="#1a1a1a", linewidth=1.6,
        ticks="outside", tickvals=TICKS_Y, ticklen=5, tickwidth=1.1, tickcolor="#1a1a1a",
        minor=dict(dtick=2, tick0=0, ticks="outside", ticklen=2, tickcolor="#1a1a1a"),
        tickfont=dict(family=FONT, size=12.3, color="#222"))

    # bootscan curves
    for g in GENOTYPES:
        pts = p["data"][g]
        col = COLORS[g]
        if i == 5 and g == "G":
            col = OLIVE
        fig.add_trace(go.Scatter(
            x=[q[0] for q in pts], y=[q[1] for q in pts], mode="lines",
            line=dict(color=col, width=2.0), name=g, showlegend=False,
            xaxis=xa, yaxis=ya, hoverinfo="skip"))

    # ORF schematic boxes
    for lab, s, e, row in p["orf"]:
        top = p["rows"][row]
        bot = top + ROW_H[row]
        shapes.append(dict(type="rect", xref=xa, yref="paper", x0=s, x1=e,
                           y0=py(bot), y1=py(top), line=dict(color="#222", width=1.4),
                           fillcolor="white", layer="above"))
        ymid = (top + bot) / 2
        if lab == "S":
            shapes.append(dict(type="line", xref=xa, yref="paper", x0=p["pres"], x1=p["pres"],
                               y0=py(bot), y1=py(top), line=dict(color="#222", width=1.4)))
            text((s + p["pres"]) / 2, ymid, "PreS", size=10.5, xref=xa)
            text((p["pres"] + e) / 2, ymid, "S", size=10.5, xref=xa)
        else:
            text((s + e) / 2, ymid, lab, size=10.5, xref=xa)

    # recombinant bar
    bounds = [p["bar"][0]] + p["bpos"] + [p["bar"][1]]
    y0b, y1b = p["bar_y"]
    for k, letter in enumerate(p["letters"]):
        s, e = bounds[k], bounds[k + 1]
        if p["insert"] is not None and k == 0:
            e = p["insert"][0]
        if p["insert"] is not None and k == 1:
            s = p["insert"][1]
        shapes.append(dict(type="rect", xref=xa, yref="paper", x0=s, x1=e,
                           y0=py(y1b), y1=py(y0b), line=dict(width=0),
                           fillcolor=BAR_COL[letter], layer="above"))
        text((s + e) / 2, (y0b + y1b) / 2, letter, size=13.5, xref=xa, color="white")

    # breakpoint dotted lines and labels
    for lab, pos in zip(p["blab"], p["bpos"]):
        shapes.append(dict(type="line", xref=xa, yref="paper", x0=pos, x1=pos,
                           y0=py(p["vline"][1]), y1=py(p["vline"][0]),
                           line=dict(color="#1a1a1a", width=1.5, dash="2px,1.5px"), layer="above"))
        text(pos, p["blab_y"], str(lab), size=12.3, xref=xa)

    text(p["tagxy"][0], p["tagxy"][1], p["tag"], size=18, anchor="left")
    text(p["one_x"], (y0b + y1b) / 2, "1", size=15.5)
    text(p["len_x"], (y0b + y1b) / 2, str(p["length"]), size=15.5)
    text(p["name_xy"][0], p["name_xy"][1], p["name"], size=15.5)
    nx, ny, na = p["nuc_xy"]
    text(nx, ny, "Nucleotide position (bp)", size=14.5, anchor=na)

# y axis title on panel (c)
text(22, 745, "Permuted trees (%)", size=18.5, angle=-90)

# genotype key (panel b)
KEY_TOP, KEY_STEP = 116, 17.1
shapes.append(dict(type="rect", xref="paper", yref="paper", x0=px(1143), x1=px(1220),
                   y0=py(252), y1=py(104), line=dict(color="#111", width=2), fillcolor="white"))
for k, g in enumerate(GENOTYPES):
    yk_ = KEY_TOP + KEY_STEP * k
    shapes.append(dict(type="line", xref="paper", yref="paper", x0=px(1157), x1=px(1175),
                       y0=py(yk_), y1=py(yk_), line=dict(color=COLORS[g], width=2.4)))
    text(1189, yk_, g, size=14.5)

# caption
shapes.append(dict(type="line", xref="paper", yref="paper", x0=px(615), x1=px(1203),
                   y0=py(1067), y1=py(1067), line=dict(color="#333", width=2.2)))
for k, line in enumerate(CAPTION):
    s = justify(line, nbold=CAPTION_BOLD_WORDS if k == 0 else 0, last=(k == len(CAPTION) - 1))
    text(CAP_X0, CAP_Y0 + CAP_DY * k, s, size=CAP_SIZE, anchor="left", color="#1a1a1a")

fig.update_layout(
    width=W, height=H, margin=dict(l=0, r=0, t=0, b=0),
    paper_bgcolor="white", plot_bgcolor="white",
    font=dict(family=FONT, color="#222"),
    shapes=shapes, annotations=annotations, showlegend=False,
    **layout_axes)

fig.write_html("out.html", config={"displayModeBar": False},
               post_script="document.body.style.margin='0';document.body.style.overflow='hidden';")
